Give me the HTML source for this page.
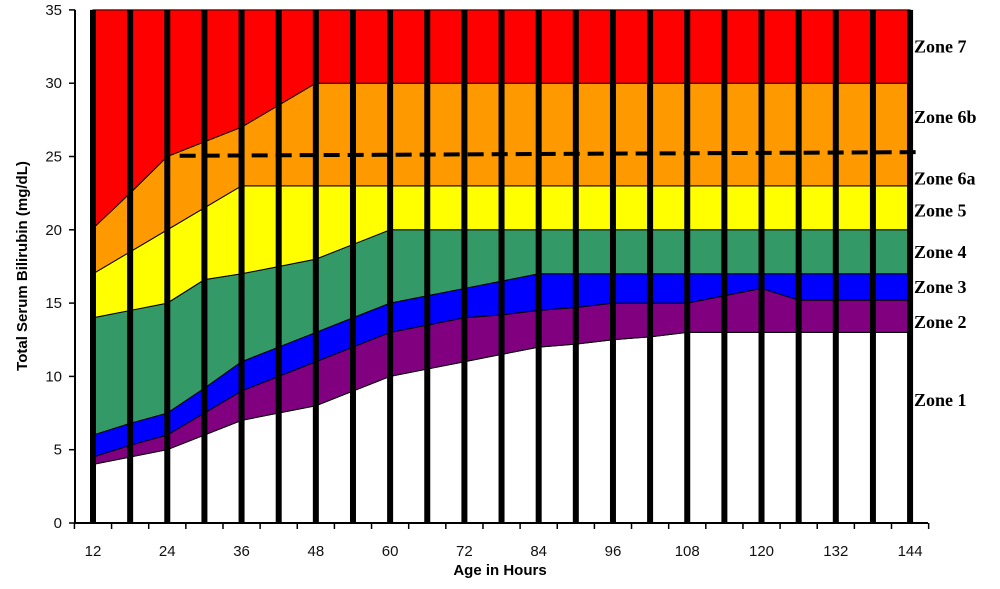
<!DOCTYPE html>
<html><head><meta charset="utf-8"><style>
body{margin:0;background:#fff;width:1000px;height:584px;overflow:hidden}
svg text{font-family:"Liberation Sans",sans-serif}
</style></head><body>
<svg id="c" width="1000" height="584"></svg>
<script>
const hours=[12,18,24,30,36,42,48,54,60,66,72,78,84,90,96,102,108,114,120,126,132,138,144];
const zone1Top=[4,4.5,5,6,7,7.5,8,9,10,10.5,11,11.5,12,12.2,12.5,12.7,13,13,13,13,13,13,13];
const zone2Top=[4.5,5.3,6,7.5,9,10,11,12,13,13.5,14,14.2,14.5,14.7,15,15,15,15.5,16,15.2,15.2,15.2,15.2];
const zone3Top=[6,6.8,7.5,9.2,11,12,13,14,15,15.5,16,16.5,17,17,17,17,17,17,17,17,17,17,17];
const zone4Top=[14,14.5,15,16.6,17,17.5,18,19,20,20,20,20,20,20,20,20,20,20,20,20,20,20,20];
const zone5Top=[17,18.5,20,21.5,23,23,23,23,23,23,23,23,23,23,23,23,23,23,23,23,23,23,23];
const zone6Top=[20.1,22.5,25,26,27,28.5,30,30,30,30,30,30,30,30,30,30,30,30,30,30,30,30,30];
const zone7Top=hours.map(()=>35);
const yTicks=[0,5,10,15,20,25,30,35];
const xLabels=[12,24,36,48,60,72,84,96,108,120,132,144];
const dashedHours=[26,146];const dashedVals=[25.05,25.3];
const zoneNames=["Zone 7","Zone 6b","Zone 6a","Zone 5","Zone 4","Zone 3","Zone 2","Zone 1"];
const zoneLabelVals=[32.5,27.7,23.5,21.3,18.5,16.1,13.7,8.4];

const NS="http://www.w3.org/2000/svg";const svg=document.getElementById('c');
const X=h=>93+(h-12)*6.19;const Y=v=>523-v*14.66;
function mk(t,a,p){const e=document.createElementNS(NS,t);for(const k in a)e.setAttribute(k,a[k]);(p||svg).appendChild(e);return e;}
const layers=[[hours.map(()=>0),zone1Top,'#ffffff','zone-1-area'],[zone1Top,zone2Top,'#800080','zone-2-area'],[zone2Top,zone3Top,'#0000ff','zone-3-area'],[zone3Top,zone4Top,'#339966','zone-4-area'],[zone4Top,zone5Top,'#ffff00','zone-5-area'],[zone5Top,zone6Top,'#ff9900','zone-6-area'],[zone6Top,zone7Top,'#ff0000','zone-7-area']];
layers.forEach(([lo,hi,col,name])=>{
 let d=hours.map((h,i)=>(i?'L':'M')+X(h)+','+Y(hi[i])).join('');
 for(let i=hours.length-1;i>=0;i--)d+='L'+X(hours[i])+','+Y(lo[i]);
 const p=mk('path',{d:d+'Z',fill:col,stroke:'#000','stroke-width':1});
 
 
});
hours.forEach(h=>{const b=mk('rect',{x:X(h)-3,y:Y(35),width:6,height:Y(0)-Y(35),fill:'#000'});
 
 });
const dl=mk('line',{x1:X(dashedHours[0]),y1:Y(dashedVals[0]),x2:X(dashedHours[1]),y2:Y(dashedVals[1]),stroke:'#000','stroke-width':4,'stroke-dasharray':'16,8'});


mk('line',{x1:75,y1:Y(0),x2:928,y2:Y(0),stroke:'#000','stroke-width':2});
mk('line',{x1:75,y1:Y(35),x2:75,y2:Y(0),stroke:'#000','stroke-width':2});
yTicks.forEach(v=>{mk('line',{x1:69,y1:Y(v),x2:75,y2:Y(v),stroke:'#000','stroke-width':1.5});
 const t=mk('text',{x:62,y:Y(v)+5,'text-anchor':'end','font-size':15,fill:'#111'});t.textContent=v;
 
 });
for(let h=9;h<=147;h+=6)mk('line',{x1:X(h),y1:Y(0),x2:X(h),y2:Y(0)+6,stroke:'#000','stroke-width':1.5});
xLabels.forEach(h=>{const t=mk('text',{x:X(h),y:556,'text-anchor':'middle','font-size':15,fill:'#111'});t.textContent=h;
 
 });
const xt=mk('text',{x:500,y:575,'text-anchor':'middle','font-size':15,'font-weight':'bold'});xt.textContent='Age in Hours';


const yt=mk('text',{x:0,y:0,'text-anchor':'middle','font-size':15,'font-weight':'bold',transform:'translate(27,266) rotate(-90)'});yt.textContent='Total Serum Bilirubin (mg/dL)';


zoneNames.forEach((n,i)=>{const t=mk('text',{x:914,y:Y(zoneLabelVals[i])+6,'font-size':18,'font-weight':'bold',style:'font-family:"Liberation Serif",serif'});t.textContent=n;
 
 });
</script></body></html>
